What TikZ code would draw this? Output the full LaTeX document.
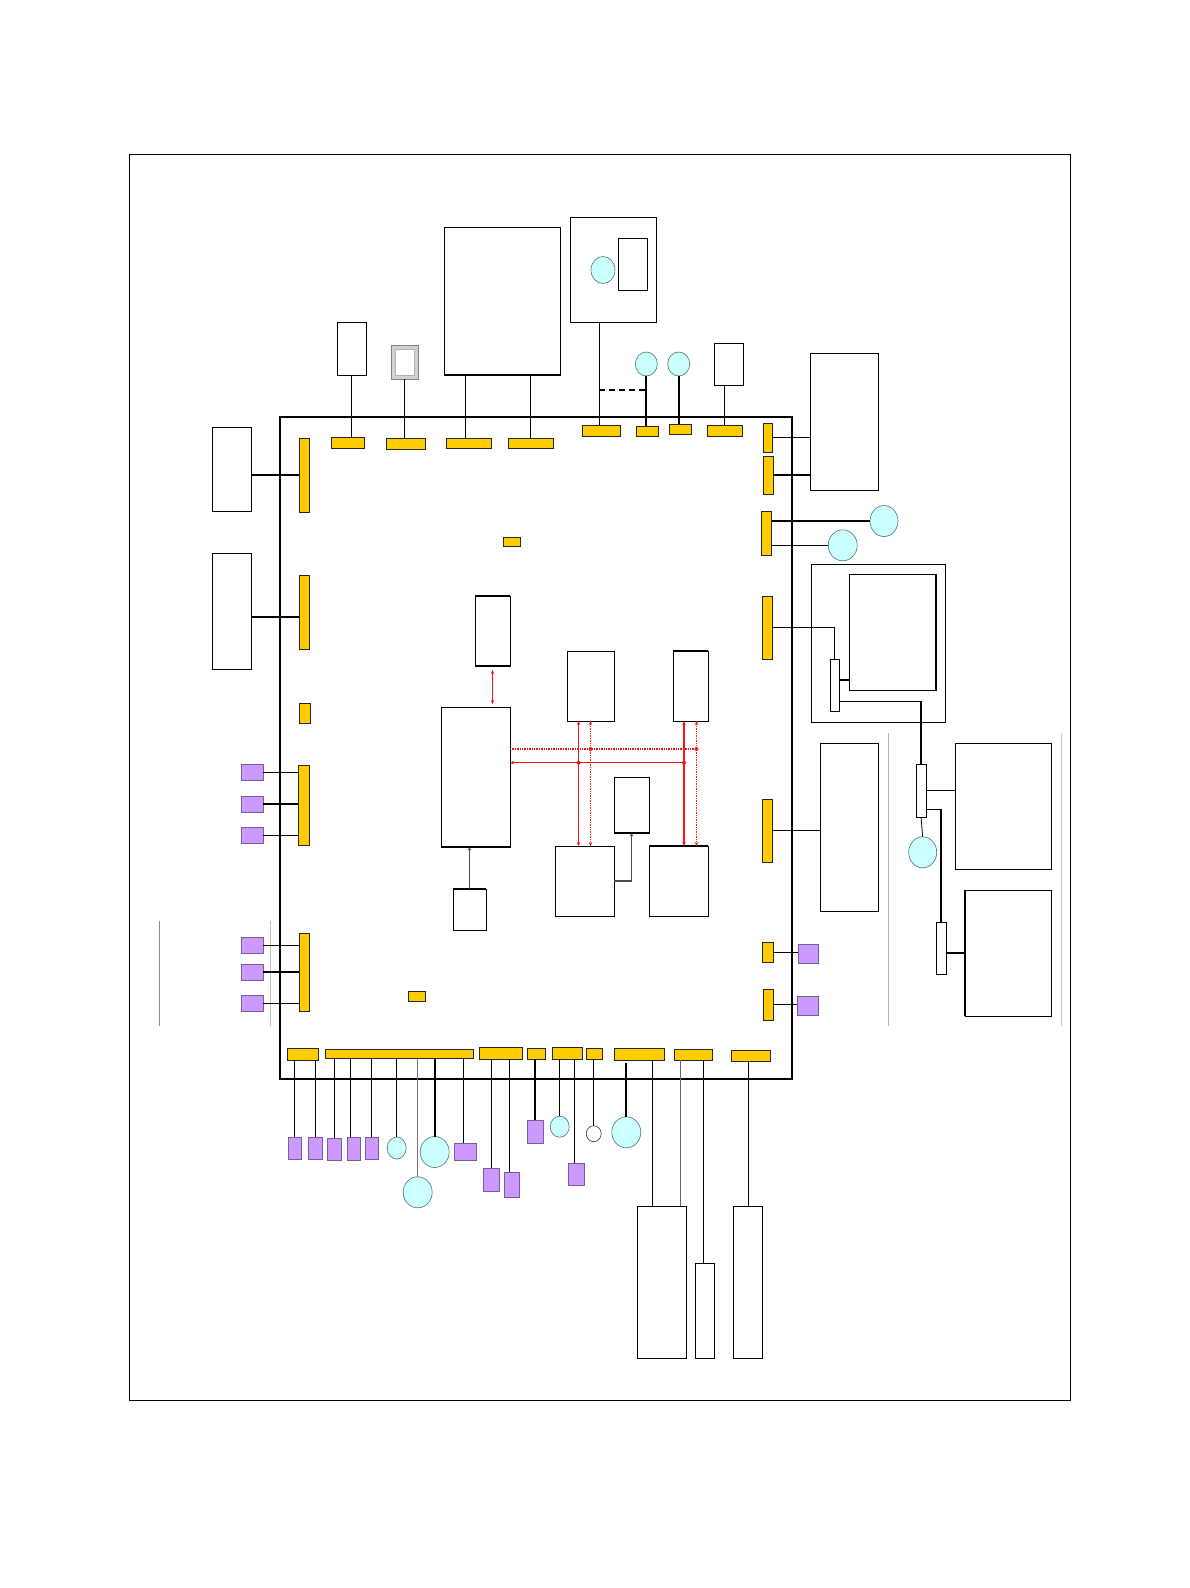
\documentclass[tikz,border=0pt]{standalone}
\usepackage{tikz}
\usepackage{xcolor}
\usetikzlibrary{shapes.geometric, arrows.meta, positioning, calc}

\definecolor{padyellow}{HTML}{FFCC00}
\definecolor{plugfill}{HTML}{CC99FF}
\definecolor{plugline}{HTML}{7A5C99}
\definecolor{portfill}{HTML}{CCFFFF}
\definecolor{portline}{HTML}{4D7373}
\definecolor{linkred}{HTML}{F01818}

\begin{document}
\begin{tikzpicture}[x=1pt, y=-1pt,
  box/.style={draw=black, fill=white, line width=0.9pt, inner sep=0pt, outer sep=0pt},
  pad/.style={draw=black!85, fill=padyellow, line width=0.8pt, inner sep=0pt, outer sep=0pt},
  plug/.style={draw=plugline, fill=plugfill, line width=0.7pt, inner sep=0pt, outer sep=0pt},
  port/.style={ellipse, draw=portline, fill=portfill, line width=0.6pt, inner sep=0pt, outer sep=0pt},
  hole/.style={ellipse, draw=black!80, fill=white, line width=0.6pt, inner sep=0pt, outer sep=0pt},
  wire/.style={line width=0.8pt},
  bigwire/.style={line width=1.8pt},
  feed/.style={line width=1.1pt, draw=black!70, -{Stealth[length=3.5pt,width=3.5pt]}},
  redwire/.style={line width=1.2pt, draw=linkred},
  redlink/.style={redwire, {Stealth[length=4pt,width=3.5pt]}-{Stealth[length=4pt,width=3.5pt]}},
  reddot/.style={dash pattern=on 1.4pt off 1pt},
  guide/.style={line width=0.8pt, draw=black!30},
]
\useasboundingbox (0,0) rectangle (1190,1588);
\draw[line width=0.9pt] (129.6,154) rectangle (1070.5,1400);

\node[box, fill=none, line width=1.7pt, minimum width=512pt, minimum height=662pt] (board) at (536,748) {};

\draw[guide] (888,733) -- (888,1026);
\draw[guide, draw=black!22] (1061,733) -- (1061,1026);
\draw[guide, draw=black!45] (159,921) -- (159,1026);
\draw[guide, draw=black!25] (270,921) -- (270,1026);

\node[box, minimum width=29pt, minimum height=53pt] (blkA) at (351.5,348.5) {};
\node[box, draw=gray, fill=gray!35, minimum width=27pt, minimum height=34pt] (bevel) at (404.5,362) {};
\node[box, draw=gray!60, minimum width=19pt, minimum height=26pt] (bevin) at (404.5,362) {};
\node[box, minimum width=116pt, minimum height=148pt] (mem) at (502,301) {};
\node[box, minimum width=86pt, minimum height=105pt] (cam) at (613,269.5) {};
\node[port, minimum width=24pt, minimum height=27pt] (lens) at (603,270) {};
\node[box, minimum width=29pt, minimum height=52pt] (sensor) at (632.5,264) {};
\node[port, minimum width=22pt, minimum height=24pt] (led1) at (646.3,364) {};
\node[port, minimum width=22pt, minimum height=24pt] (led2) at (678.7,364) {};
\node[box, minimum width=29pt, minimum height=42pt] (sw) at (728.5,364) {};
\draw[line width=1.6pt] (mem.south west) -- (mem.south east);

\node[pad, minimum width=33pt, minimum height=11pt] (tpad1) at (347.5,442.5) {};
\node[pad, minimum width=39pt, minimum height=11pt] (tpad2) at (405.5,443.5) {};
\node[pad, minimum width=45pt, minimum height=10pt] (tpad3) at (468.5,443.5) {};
\node[pad, minimum width=45pt, minimum height=10pt] (tpad4) at (530.5,443.5) {};
\node[pad, minimum width=38pt, minimum height=11pt] (tpad5) at (601,430.5) {};
\node[pad, minimum width=22pt, minimum height=10pt] (tpad6) at (647,431) {};
\node[pad, minimum width=22pt, minimum height=10pt] (tpad7) at (680,429) {};
\node[pad, minimum width=35pt, minimum height=11pt] (tpad8) at (724.5,430.5) {};

\draw[bigwire] (blkA.south) -- (blkA.south |- tpad1.north);
\draw[bigwire] (bevel.south) -- (bevel.south |- tpad2.north);
\draw[bigwire] ([xshift=-3pt]tpad3.north) -- ([xshift=-3pt]tpad3.north |- mem.south);
\draw[bigwire] (tpad4.north) -- (tpad4.north |- mem.south);
\draw[wire] ([xshift=-2pt]tpad5.north) -- ([xshift=-2pt]tpad5.north |- cam.south);
\coordinate (camtap) at (599,390);
\draw[bigwire, dash pattern=on 6pt off 4pt] (camtap) -- (camtap -| led1.south);
\draw[bigwire] (led1.south) -- (led1.south |- tpad6.north);
\draw[bigwire] (led2.south) -- (led2.south |- tpad7.north);
\draw[wire] (tpad8.north) -- (tpad8.north |- sw.south);

\node[box, minimum width=68pt, minimum height=137pt] (disp) at (844,421.5) {};
\node[pad, minimum width=9pt, minimum height=29pt] (rpad1) at (767.5,437.5) {};
\node[pad, minimum width=10pt, minimum height=38pt] (rpad2) at (768,475) {};
\node[pad, minimum width=10pt, minimum height=44pt] (rpad3) at (766.5,533) {};
\node[port, minimum width=28pt, minimum height=31pt] (jackA) at (884,521) {};
\node[port, minimum width=29pt, minimum height=31pt] (jackB) at (842.7,545.3) {};
\node[pad, minimum width=10pt, minimum height=63pt] (rpad4) at (767.5,627.5) {};
\node[box, fill=none, minimum width=134pt, minimum height=158pt] (lcdframe) at (878,643) {};
\node[box, minimum width=87pt, minimum height=116pt] (lcd) at (892.5,632) {};
\draw[line width=1.6pt] (lcd.north east) -- (lcd.south east);
\node[box, minimum width=9pt, minimum height=52pt] (conA) at (834.5,685) {};

\draw[wire] (rpad1.east) -- (rpad1.east -| disp.west);
\draw[bigwire] (rpad2.east) -- (rpad2.east -| disp.west);
\draw[bigwire] (rpad3.east |- jackA.west) -- (jackA.west);
\draw[wire] (rpad3.east |- jackB.west) -- (jackB.west);
\draw[bigwire] (rpad4.east) -- (rpad4.east -| conA.north);
\draw[wire] (rpad4.east -| conA.north) -- (conA.north);
\draw[bigwire] ([yshift=5pt]conA.east) -- ([yshift=5pt]conA.east -| lcd.west);

\node[box, minimum width=96pt, minimum height=126pt] (modA) at (1003,806) {};
\node[box, minimum width=86pt, minimum height=126pt] (modB) at (1008,953) {};
\draw[line width=1.6pt] (modB.north west) -- (modB.south west);
\node[box, minimum width=10pt, minimum height=53pt] (conB) at (921,790.5) {};
\node[box, minimum width=10pt, minimum height=52pt] (conC) at (941,948) {};
\node[port, minimum width=28pt, minimum height=31pt] (jackC) at (922.7,852.3) {};

\draw[wire] ([yshift=-16pt]conA.east) -- ([yshift=-16pt]conA.east -| conB.north);
\draw[bigwire] ([yshift=-16pt]conA.east -| conB.north) -- (conB.north);
\draw[bigwire] (conB.east) -- (conB.east -| modA.west);
\draw[bigwire] ([yshift=-19pt]conB.east) -| (conC.north);
\draw[wire] (conB.south) -- (jackC.north);
\draw[bigwire] ([yshift=-5pt]conC.east) -- ([yshift=-5pt]conC.east -| modB.west);

\node[box, minimum width=58pt, minimum height=168pt] (batt) at (849,827) {};
\node[pad, minimum width=10pt, minimum height=63pt] (rpad5) at (767,830.5) {};
\node[pad, minimum width=11pt, minimum height=20pt] (rpad6) at (767.5,952) {};
\node[pad, minimum width=10pt, minimum height=31pt] (rpad7) at (768,1004.5) {};
\node[plug, minimum width=20pt, minimum height=19pt] (key1) at (808,953.5) {};
\node[plug, minimum width=21pt, minimum height=19pt] (key2) at (807.5,1005.5) {};

\draw[wire] (rpad5.east) -- (rpad5.east -| batt.west);
\draw[wire] (rpad6.east) -- (rpad6.east -| key1.west);
\draw[wire] (rpad7.east) -- (rpad7.east -| key2.west);

\node[box, minimum width=39pt, minimum height=84pt] (simA) at (231.5,469) {};
\node[box, minimum width=39pt, minimum height=116pt] (simB) at (231.5,611) {};
\node[pad, minimum width=10pt, minimum height=74pt] (lpad1) at (304,475) {};
\node[pad, minimum width=10pt, minimum height=74pt] (lpad2) at (304,612) {};
\node[pad, minimum width=11pt, minimum height=20pt] (lpad3) at (304.5,713) {};
\node[pad, minimum width=11pt, minimum height=80pt] (lpad4) at (303.5,805) {};
\node[pad, minimum width=10pt, minimum height=78pt] (lpad5) at (304,972) {};
\node[plug, minimum width=22pt, minimum height=16pt] (lkey1) at (252,772) {};
\node[plug, minimum width=22pt, minimum height=16pt] (lkey2) at (252,804) {};
\node[plug, minimum width=22pt, minimum height=16pt] (lkey3) at (252,835.5) {};
\node[plug, minimum width=22pt, minimum height=16pt] (lkey4) at (252,945.5) {};
\node[plug, minimum width=22pt, minimum height=16pt] (lkey5) at (252,972) {};
\node[plug, minimum width=22pt, minimum height=16pt] (lkey6) at (252,1003.5) {};

\draw[bigwire] (lpad1.west) -- (lpad1.west -| simA.east);
\draw[bigwire] ([yshift=-5pt]lpad2.west) -- ([yshift=-5pt]lpad2.west -| simB.east);
\draw[wire] (lkey1.east) -- (lkey1.east -| lpad4.west);
\draw[bigwire] (lkey2.east) -- (lkey2.east -| lpad4.west);
\draw[wire] (lkey3.east) -- (lkey3.east -| lpad4.west);
\draw[wire] (lkey4.east) -- (lkey4.east -| lpad5.west);
\draw[bigwire] (lkey5.east) -- (lkey5.east -| lpad5.west);
\draw[bigwire] (lkey6.east) -- (lkey6.east -| lpad5.west);

\node[pad, minimum width=17pt, minimum height=9pt] (mpad1) at (511.5,541.5) {};
\node[pad, minimum width=17pt, minimum height=10pt] (mpad2) at (416.5,996.5) {};
\node[box, minimum width=35pt, minimum height=70pt] (cpuA) at (492.5,631) {};
\node[box, minimum width=69pt, minimum height=140pt] (cpu) at (475.5,777) {};
\node[box, minimum width=33pt, minimum height=41pt] (osc) at (469.5,909.5) {};
\node[box, minimum width=47pt, minimum height=70pt] (ramA) at (590.5,686) {};
\node[box, minimum width=35pt, minimum height=70pt] (ramB) at (690.5,686) {};
\node[box, minimum width=35pt, minimum height=56pt] (ctrl) at (631.5,805) {};
\node[box, minimum width=59pt, minimum height=70pt] (flashA) at (584.5,881) {};
\node[box, minimum width=59pt, minimum height=70pt] (flashB) at (678.5,881) {};
\draw[line width=1.6pt] (cpuA.north west) -- (cpuA.north east);
\draw[line width=1.6pt] (cpuA.south west) -- (cpuA.south east);
\draw[line width=1.6pt] (cpu.south west) -- (cpu.south east);
\draw[line width=1.6pt] (osc.north west) -- (osc.north east);
\draw[line width=1.6pt] (ramB.north west) -- (ramB.north east);
\draw[line width=1.6pt] (ctrl.south west) -- (ctrl.south east);
\draw[line width=1.6pt] (flashB.north west) -- (flashB.north east);

\draw[redlink, shorten <=4pt, shorten >=3pt] (cpuA.south) -- (cpuA.south |- cpu.north);
\coordinate (vA) at ([xshift=-12pt]ramA.south);
\coordinate (vB) at ([xshift=-6.5pt]ramB.south);
\coordinate (vBd) at ([xshift=6pt]ramB.south);
\coordinate (busD) at ([yshift=28pt]cpu.east);
\coordinate (busS) at ([yshift=14.3pt]cpu.east);
\draw[redlink] (vA) -- (vA |- flashA.north);
\draw[redlink, reddot] (ramA.south) -- (ramA.south |- flashA.north);
\draw[redlink] (vB) -- (vB |- flashB.north);
\draw[redlink, reddot] (vBd) -- (vBd |- flashB.north);
\draw[redwire, reddot] (busD) -- (busD -| vBd);
\draw[redwire, -{Stealth[length=4pt,width=3.5pt]}] (busS -| vB) -- (busS);
\fill[linkred] (busD -| ramA.south) circle (2pt);
\fill[linkred] (busD -| vBd) circle (2pt);
\fill[linkred] (busS -| vA) circle (2pt);
\fill[linkred] (busS -| vB) circle (2pt);

\draw[feed] (flashA.east) -| (ctrl.south);
\draw[feed] (osc.north) -- (osc.north |- cpu.south);

\node[pad, minimum width=31pt, minimum height=12pt] (bpad1) at (302.5,1054) {};
\node[pad, minimum width=148pt, minimum height=9pt] (bpad2) at (399,1053.5) {};
\node[pad, minimum width=43pt, minimum height=12pt] (bpad3) at (500.5,1053) {};
\node[pad, minimum width=18pt, minimum height=11pt] (bpad4) at (536,1053.5) {};
\node[pad, minimum width=30pt, minimum height=12pt] (bpad5) at (567,1053) {};
\node[pad, minimum width=16pt, minimum height=11pt] (bpad6) at (594,1053.5) {};
\node[pad, minimum width=50pt, minimum height=12pt] (bpad7) at (639.5,1054) {};
\node[pad, minimum width=38pt, minimum height=11pt] (bpad8) at (693,1054.5) {};
\node[pad, minimum width=39pt, minimum height=11pt] (bpad9) at (750.5,1055.5) {};

\node[plug, minimum width=13pt, minimum height=22pt] (bkey1) at (294.5,1148) {};
\node[plug, minimum width=14pt, minimum height=22pt] (bkey2) at (315,1148) {};
\node[plug, minimum width=14pt, minimum height=22pt] (bkey3) at (334,1149) {};
\node[plug, minimum width=13pt, minimum height=23pt] (bkey4) at (353.5,1148.5) {};
\node[plug, minimum width=13pt, minimum height=22pt] (bkey5) at (371.5,1148) {};
\node[port, minimum width=19pt, minimum height=22pt] (bjack1) at (396.7,1148) {};
\node[port, minimum width=29pt, minimum height=31pt] (bjack2) at (417.7,1192.3) {};
\node[port, minimum width=29pt, minimum height=31pt] (bjack3) at (434.7,1152) {};
\node[plug, minimum width=22pt, minimum height=17pt] (bkey6) at (465,1151.5) {};
\node[plug, minimum width=16pt, minimum height=23pt] (bkey7) at (491,1179.5) {};
\node[plug, minimum width=15pt, minimum height=25pt] (bkey8) at (511.5,1184.5) {};
\node[plug, minimum width=16pt, minimum height=23pt] (bkey9) at (535,1131.5) {};
\node[port, minimum width=19pt, minimum height=21pt] (bjack4) at (559.7,1126.7) {};
\node[plug, minimum width=16pt, minimum height=22pt] (bkey10) at (576,1174) {};
\node[hole, minimum width=15pt, minimum height=16pt] (bhole) at (593.7,1133.7) {};
\node[port, minimum width=29pt, minimum height=31pt] (bjack5) at (626.3,1132.3) {};
\node[box, minimum width=49pt, minimum height=152pt] (flexA) at (661.5,1282) {};
\node[box, minimum width=19pt, minimum height=95pt] (flexB) at (704.5,1310.5) {};
\node[box, minimum width=29pt, minimum height=152pt] (flexC) at (747.5,1282) {};

\draw[wire] (bkey1.north) -- (bkey1.north |- bpad1.south);
\draw[wire] (bkey2.north) -- (bkey2.north |- bpad1.south);
\draw[wire] (bkey3.north) -- (bkey3.north |- bpad2.south);
\draw[wire] ([xshift=-3pt]bkey4.north) -- ([xshift=-3pt]bkey4.north |- bpad2.south);
\draw[wire] (bkey5.north) -- (bkey5.north |- bpad2.south);
\draw[wire] (bjack1.north) -- (bjack1.north |- bpad2.south);
\draw[wire, draw=black!55] (bjack2.north) -- (bjack2.north |- bpad2.south);
\draw[bigwire] (bjack3.north) -- (bjack3.north |- bpad2.south);
\draw[bigwire] ([xshift=-1.5pt]bkey6.north) -- ([xshift=-1.5pt]bkey6.north |- bpad2.south);
\draw[wire] (bkey7.north) -- (bkey7.north |- bpad3.south);
\draw[bigwire] ([xshift=-2pt]bkey8.north) -- ([xshift=-2pt]bkey8.north |- bpad3.south);
\draw[bigwire] (bkey9.north) -- (bkey9.north |- bpad4.south);
\draw[wire] (bjack4.north) -- (bjack4.north |- bpad5.south);
\draw[bigwire] ([xshift=-1.5pt]bkey10.north) -- ([xshift=-1.5pt]bkey10.north |- bpad5.south);
\draw[wire] (bhole.north) -- (bhole.north |- bpad6.south);
\draw[bigwire] (bjack5.north) -- ([yshift=-3pt]bjack5.north |- bpad7.south);
\draw[bigwire] ([xshift=-9pt]flexA.north) -- ([xshift=-9pt]flexA.north |- bpad7.south);
\draw[line width=1.2pt, draw=black!60] ([xshift=19pt]flexA.north) -- ([xshift=19pt]flexA.north |- bpad8.south);
\draw[wire] ([xshift=-1pt]flexB.north) -- ([xshift=-1pt]flexB.north |- bpad8.south);
\draw[wire] ([xshift=1pt]flexC.north) -- ([xshift=1pt]flexC.north |- bpad9.south);
\end{tikzpicture}
\end{document}
